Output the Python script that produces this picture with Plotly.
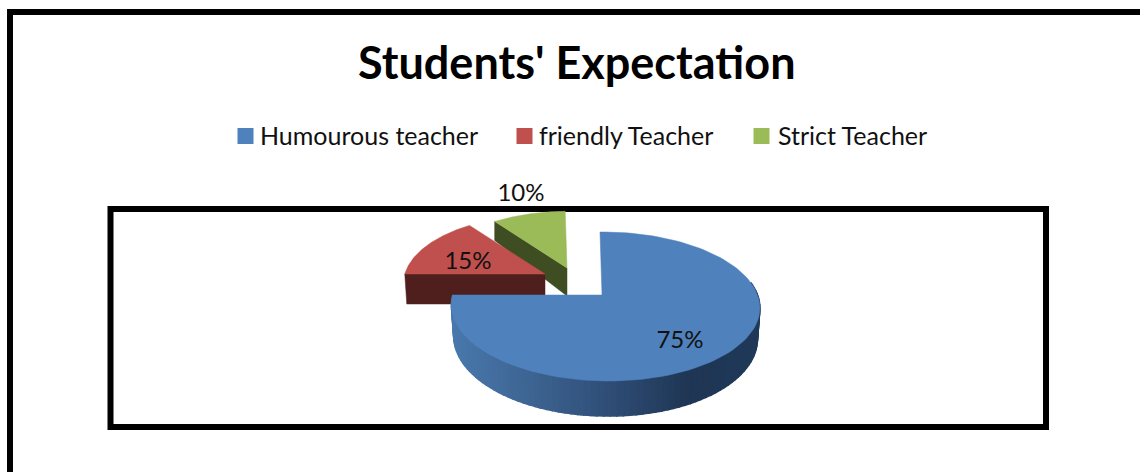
import numpy as np
import plotly.graph_objects as go

# ---- data ----
title = "Students' Expectation"
categories = ["Humourous teacher", "friendly Teacher", "Strict Teacher"]
values = [75, 15, 10]

# ---- style / geometry ----
W, H = 1140, 472
top_colors = ["#4f81bd", "#c0504d", "#9bbb59"]
side_colors = ["#2f4e76", "#4f1f1d", "#3f4d22"]
apex = [(602, 295), (545, 274), (567, 268)]
scale = [1.0, 0.94, 0.90]
depth = [30, 30, 28]
depth_tilt = [0.17, 0.0, 0.4]
A, B, K, M, SHEAR = 152.3, 72.7, 0.1544, -0.021, 2.3
label_pos = [(680, 342), (468, 263), (521, 195)]
legend_swatch_x = [245.5, 524.5, 761.5]
legend_text_x = [258, 537, 776]
legend_y = 135
FONT = "Lato"
side_stops = [(451, (74, 121, 173)), (520, (63, 103, 150)), (610, (47, 78, 118)),
              (690, (31, 54, 84)), (760, (33, 58, 90))]


def rim(theta, i):
    """theta: radians clockwise from north; tilted-disc projection around the slice apex."""
    u, v = np.sin(theta), np.cos(theta)
    w = 1 + K * v + M * u
    x = apex[i][0] + scale[i] * (A * u - SHEAR * v) / w
    y = apex[i][1] - scale[i] * B * v / w
    return x, y


def drop(theta, i):
    return depth[i] * (1 - depth_tilt[i] * np.cos(theta))


fractions = np.array(values, dtype=float) / sum(values)
starts = np.concatenate([[0], np.cumsum(fractions)[:-1]]) * 2 * np.pi
ends = np.cumsum(fractions) * 2 * np.pi

fig = go.Figure()


def poly(xs, ys, color, name=None, lw=0.5):
    fig.add_trace(go.Scatter(x=list(xs), y=list(ys), mode="lines", fill="toself",
                             fillcolor=color, line=dict(color=color, width=lw),
                             hoverinfo="skip" if name is None else "name",
                             name=name or "", showlegend=False))


def top_face(i):
    th = np.linspace(starts[i], ends[i], 120)
    x, y = rim(th, i)
    poly(np.r_[apex[i][0], x, apex[i][0]], np.r_[apex[i][1], y, apex[i][1]],
         top_colors[i], categories[i])


# exploded small slices, farthest first: flat cut face then top
for i in (2, 1):
    tip_x, tip_y = rim(starts[i], i)
    ax, ay = apex[i]
    d_tip = drop(starts[i], i)
    d_apex = depth[i]
    poly([tip_x, ax, ax, tip_x + (2 if i == 1 else 0), tip_x],
         [tip_y, ay, ay + d_apex, tip_y + d_tip, tip_y], side_colors[i])
    top_face(i)

# large slice: outer wall with a left-to-right shade
stops_x = [s[0] for s in side_stops]
th = np.linspace(np.radians(80), ends[0], 90)
for a, b in zip(th[:-1], th[1:]):
    x0, y0 = rim(a, 0)
    x1, y1 = rim(b, 0)
    sx = 0.985
    bx0 = apex[0][0] + (x0 - apex[0][0]) * sx
    bx1 = apex[0][0] + (x1 - apex[0][0]) * sx
    by0, by1 = y0 + drop(a, 0), y1 + drop(b, 0)
    mx = (x0 + x1) / 2
    rgb = [int(np.interp(mx, stops_x, [s[1][c] for s in side_stops])) for c in range(3)]
    col = "rgb(%d,%d,%d)" % tuple(rgb)
    poly([x0, x1, bx1, bx0, x0], [y0, y1, by1, by0, y0], col, lw=1.5)
top_face(0)

# percentage labels
fig.add_trace(go.Scatter(
    x=[p[0] for p in label_pos], y=[p[1] for p in label_pos], mode="text",
    text=[f"{v}%" for v in values], textposition="middle center",
    textfont=dict(family=FONT, size=24, color="#111111"),
    hoverinfo="skip", showlegend=False))

# legend
fig.add_trace(go.Scatter(
    x=legend_swatch_x, y=[136] * 3, mode="markers",
    marker=dict(symbol="square", size=16, color=top_colors, line=dict(width=0)),
    hoverinfo="skip", showlegend=False))
annotations = [dict(x=tx, y=legend_y, text=c, xref="x", yref="y", xanchor="left",
                    yanchor="middle", showarrow=False,
                    font=dict(family=FONT, size=25, color="#111111"))
               for tx, c in zip(legend_text_x, categories)]
annotations.append(dict(x=577, y=62, text=f"<b>{title}</b>", xref="x", yref="y",
                        xanchor="center", yanchor="middle", showarrow=False,
                        font=dict(family=FONT, size=45, color="#000000")))

fig.update_layout(
    width=W, height=H, autosize=False,
    margin=dict(l=0, r=0, t=0, b=0),
    paper_bgcolor="white", plot_bgcolor="white",
    xaxis=dict(range=[0, W], visible=False, fixedrange=True),
    yaxis=dict(range=[H, 0], visible=False, fixedrange=True),
    annotations=annotations,
    shapes=[
        dict(type="rect", xref="x", yref="y", x0=10, y0=12, x1=W + 40, y1=H + 40,
             line=dict(color="black", width=6), layer="below"),
        dict(type="rect", xref="x", yref="y", x0=110.5, y0=209, x1=1046, y1=427,
             line=dict(color="black", width=6), layer="below"),
    ],
    showlegend=False,
)
fig.write_html("out.html", config={"displayModeBar": False},
               post_script="document.body.style.margin='0';document.documentElement.style.overflow='hidden';")
